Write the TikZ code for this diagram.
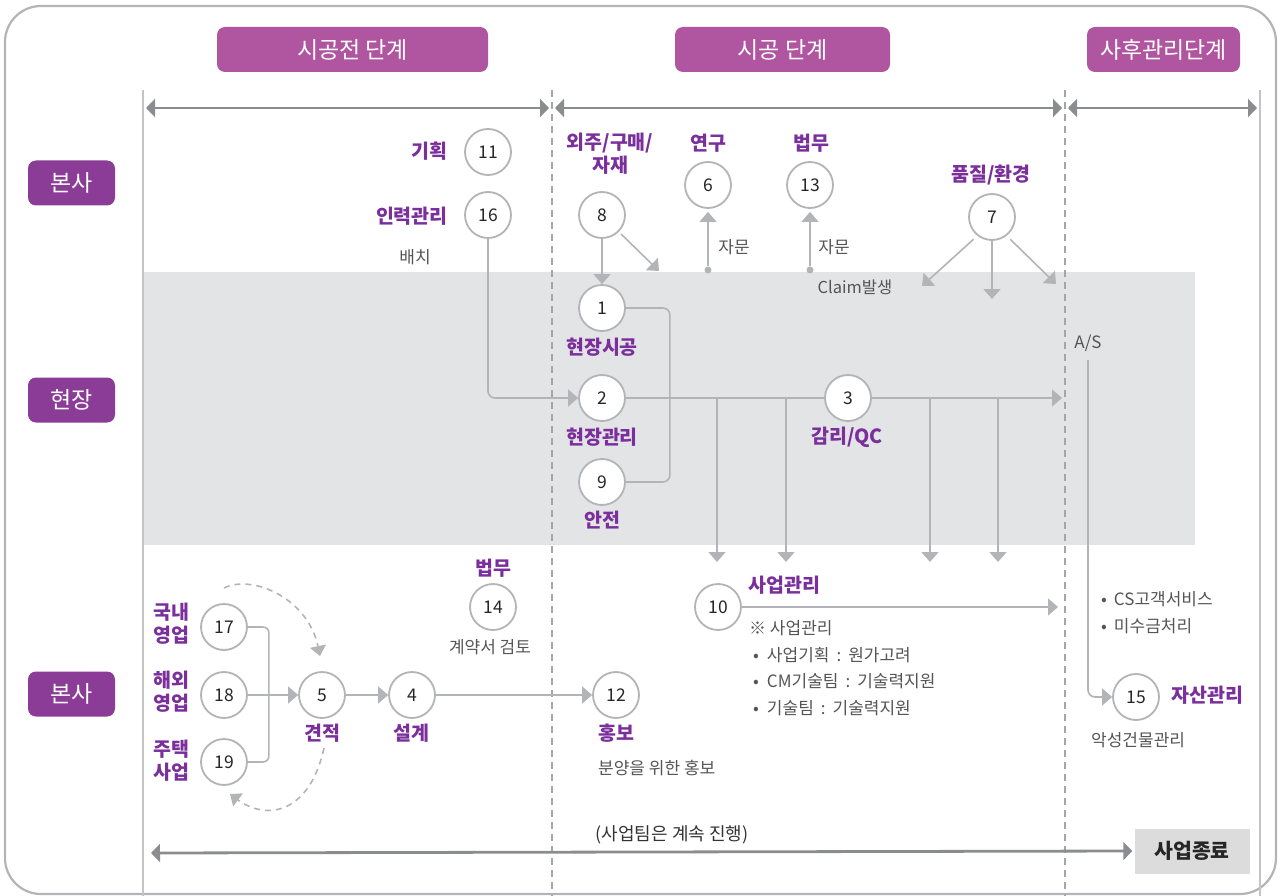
\documentclass[tikz,border=0pt]{standalone}
\usepackage{fontspec}
\setmainfont{Noto Sans CJK KR}
\usetikzlibrary{arrows.meta}
\definecolor{hdr}{HTML}{B0559F}
\definecolor{rowc}{HTML}{8A3C96}
\definecolor{lbl}{HTML}{7A2F9C}
\definecolor{ln}{HTML}{B3B4B7}
\definecolor{ph}{HTML}{8B8C8F}
\definecolor{band}{HTML}{E3E4E6}
\definecolor{framec}{HTML}{B4B4B8}
\definecolor{txt}{HTML}{555555}
\definecolor{endbox}{HTML}{DCDCDD}
\definecolor{vline}{HTML}{C4C4C7}
\definecolor{dline}{HTML}{A5A5A8}
\newcommand{\colsep}{\hspace{7pt}:\hspace{7pt}}
\begin{document}
\begin{tikzpicture}[x=1pt,y=-1pt,
 circ/.style={circle,draw=ln,line width=1.8pt,fill=white,minimum size=46pt,inner sep=0pt,font=\fontsize{17.5}{17.5}\selectfont,text=black!85},
 hdrbox/.style={rounded corners=8pt,fill=hdr,text=white,font=\fontsize{23}{23}\selectfont,inner sep=0pt},
 rowbox/.style={rounded corners=8pt,fill=rowc,text=white,minimum width=87pt,minimum height=45pt,inner sep=0pt,font=\fontsize{23}{23}\selectfont},
 plbl/.style={text=lbl,font=\fontsize{19.5}{23}\selectfont\bfseries,inner sep=0pt,align=center},
 gtxt/.style={text=txt,font=\fontsize{17}{18}\selectfont,inner sep=0pt},
 line/.style={draw=ln,line width=1.6pt},
 conn/.style={line,-{Triangle[length=10pt,width=17pt]}},
 phase/.style={draw=ph,line width=2.8pt,{Triangle[length=9pt,width=18pt]}-{Triangle[length=9pt,width=18pt]}},
 dconn/.style={draw=ln,line width=1.6pt,dash pattern=on 6pt off 5pt,-{Triangle[length=10pt,width=16pt]}},
 dotv/.style={circle,fill=ln,inner sep=0pt,minimum size=7pt},
]
\useasboundingbox (0,0) rectangle (1280,896);
% frame
\draw[framec,line width=2.2pt,rounded corners=36pt] (5,6) rectangle (1276,894);
% band
\fill[band] (143,272) rectangle (1195,545);
% vertical lines
\draw[vline,line width=1.2pt] (143,90) -- (143,896);
\draw[vline,line width=1.2pt] (1260,90) -- (1260,896);
\draw[dline,line width=1.4pt,dash pattern=on 7pt off 5pt] (552,90) -- (552,896);
\draw[dline,line width=1.4pt,dash pattern=on 7pt off 5pt] (1065,90) -- (1065,896);

% headers
\node[hdrbox,minimum width=271pt,minimum height=45pt] (h1) at (352.5,49.5) {시공전 단계};
\node[hdrbox,minimum width=215pt,minimum height=45pt] (h2) at (782.5,49.5) {시공 단계};
\node[hdrbox,minimum width=153pt,minimum height=45pt] (h3) at (1163.5,49.5) {사후관리단계};

% row labels
\node[rowbox] (r1) at (71.5,183) {본사};
\node[rowbox] (r2) at (71.5,400) {현장};
\node[rowbox] (r3) at (71.5,694) {본사};

% phase arrows
\coordinate (p1a) at (146,108); \coordinate (p1b) at (549,108);
\coordinate (p2a) at (555,108); \coordinate (p2b) at (1062,108);
\coordinate (p3a) at (1068,108); \coordinate (p3b) at (1257,108);
\draw[phase] (p1a) -- (p1b);
\draw[phase] (p2a) -- (p2b);
\draw[phase] (p3a) -- (p3b);

% circles
\node[circ] (n11) at (488,152) {11};
\node[circ] (n16) at (488,215) {16};
\node[circ] (n8) at (602,215) {8};
\node[circ] (n6) at (708,185) {6};
\node[circ] (n13) at (810,185) {13};
\node[circ] (n7) at (992,217) {7};
\node[circ] (n1) at (602,308) {1};
\node[circ] (n2) at (602,398) {2};
\node[circ] (n3) at (848,398) {3};
\node[circ] (n9) at (602,482) {9};
\node[circ] (n14) at (493,607) {14};
\node[circ] (n17) at (224,627) {17};
\node[circ] (n18) at (224,695) {18};
\node[circ] (n19) at (224,762) {19};
\node[circ] (n5) at (322,695) {5};
\node[circ] (n4) at (412,695) {4};
\node[circ] (n12) at (616,695) {12};
\node[circ] (n10) at (718,607) {10};
\node[circ] (n15) at (1136,697) {15};

% purple labels
\node[plbl,anchor=east] (l11) at (448,151) {기획};
\node[plbl,anchor=east] (l16) at (448,216) {인력관리};
\node[plbl] (l8) at (610,154) {외주/구매/\\자재};
\node[plbl] (l6) at (708,143) {연구};
\node[plbl] (l13) at (811,143) {법무};
\node[plbl] (l7) at (991,175) {품질/환경};
\node[plbl] (l1) at (602,347) {현장시공};
\node[plbl] (l2) at (602,437) {현장관리};
\node[plbl] (l9) at (602,520) {안전};
\node[plbl] (l3) at (847,437) {감리/QC};
\node[plbl] (l14) at (493,568) {법무};
\node[plbl] (l17) at (171,624) {국내\\영업};
\node[plbl] (l18) at (171,692) {해외\\영업};
\node[plbl] (l19) at (171,761) {주택\\사업};
\node[plbl] (l5) at (322,733) {견적};
\node[plbl] (l4) at (411,733) {설계};
\node[plbl] (l12) at (616,733) {홍보};
\node[plbl,anchor=west] (l10) at (748,585) {사업관리};
\node[plbl,anchor=west] (l15) at (1171,695) {자산관리};

% gray texts
\node[gtxt] (t16) at (415,257) {배치};
\node[gtxt] (t6) at (734,247) {자문};
\node[gtxt] (t13) at (834,247) {자문};
\node[gtxt,font=\fontsize{16.5}{18}\selectfont] (tcl) at (855,287) {Claim발생};
\node[gtxt] (tas) at (1088,343) {A/S};
\node[gtxt] (t14) at (490,647) {계약서 검토};
\node[gtxt,anchor=west] (t12) at (598,768) {분양을 위한 홍보};
\node[gtxt,text=black!80,font=\fontsize{18}{18}\selectfont] (tcont) at (672,835) {(사업팀은 계속 진행)};
\node[gtxt,anchor=west] (m0) at (749,628) {※ 사업관리};
\node[gtxt,anchor=west] (m1) at (753,655) {•\hspace{8pt}사업기획\colsep 원가고려};
\node[gtxt,anchor=west] (m2) at (753,681) {•\hspace{8pt}CM기술팀\colsep 기술력지원};
\node[gtxt,anchor=west] (m3) at (753,708) {•\hspace{8pt}기술팀\colsep 기술력지원};
\node[gtxt,anchor=west] (c1) at (1101,599) {•\hspace{7pt}CS고객서비스};
\node[gtxt,anchor=west] (c2) at (1101,626) {•\hspace{7pt}미수금처리};
\node[gtxt,anchor=west] (t15) at (1091,740) {악성건물관리};

% end box
\node[fill=endbox,minimum width=115pt,minimum height=45pt,inner sep=0pt,text=black!85,font=\fontsize{20.5}{20.5}\selectfont\bfseries] (fin) at (1192,851) {사업종료};
\coordinate (bl) at (151,853);
\draw[phase] (bl) -- ([xshift=-2pt]fin.west);

% connectors top
\draw[conn] (n8.south) -- (n1.north);
\coordinate (c8) at (659,271);
\draw[conn,shorten <=3pt] (n8.-45) -- (c8);
\node[dotv] (d6) at (708,270) {};
\node[dotv] (d13) at (810,270) {};
\draw[conn,shorten >=3pt] (d6) -- (n6.south);
\draw[conn,shorten >=3pt] (d13) -- (n13.south);
\coordinate (c7a) at (922,286);
\coordinate (c7b) at (992,299);
\coordinate (c7c) at (1056,284);
\draw[conn,shorten <=5pt] (n7.-128) -- (c7a);
\draw[conn] (n7.south) -- (c7b);
\draw[conn,shorten <=5pt] (n7.-52) -- (c7c);

% site connectors
\draw[conn,rounded corners=7pt] (n16.south) |- (n2.west);
\draw[line,rounded corners=7pt] (n1.east) -- ++(44,0) |- (n9.east);
\draw[line] (n2.east) -- (n3.west);
\coordinate (c3) at (1062,398);
\draw[conn] (n3.east) -- (c3);
\foreach \x/\nm in {717/a,786/b,930/c,998/d}{
  \coordinate (v\nm t) at (\x,398);
  \coordinate (v\nm b) at (\x,562);
  \draw[conn] (v\nm t) -- (v\nm b);
}
% A/S
\coordinate (asx) at (1088,360);
\draw[conn,rounded corners=7pt] (asx) |- (n15.west);
% 10
\coordinate (c10) at (1058,607);
\draw[conn] (n10.east) -- (c10);

% bottom connectors
\draw[line,rounded corners=6pt] (n17.east) -- ++(21,0) |- (n19.east);
\draw[conn] (n18.east) -- (n5.west);
\draw[conn] (n5.east) -- (n4.west);
\draw[conn] (n4.east) -- (n12.west);
\coordinate (da1) at (224,588);
\coordinate (da2) at (320,656);
\draw[dconn] (da1) .. controls (252,574) and (308,598) .. (da2);
\coordinate (db1) at (324,748);
\coordinate (db2) at (230,794);
\draw[dconn] (db1) .. controls (310,812) and (268,822) .. (db2);
\end{tikzpicture}
\end{document}
